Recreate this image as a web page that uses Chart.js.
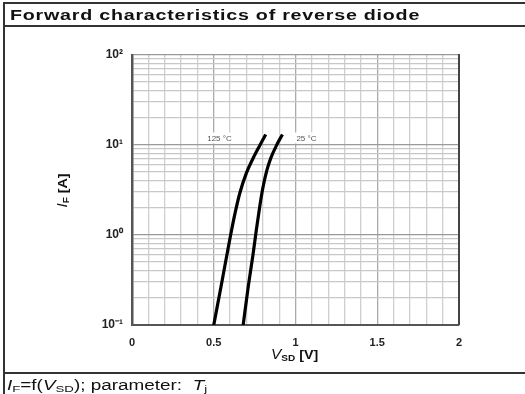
<!DOCTYPE html>
<html lang="en">
<head>
    <meta charset="UTF-8">
    <title>Forward characteristics of reverse diode</title>
    <script src="https://cdn.jsdelivr.net/npm/chart.js@4.4.0/dist/chart.umd.min.js"></script>
    <style>
        body { margin: 0; background: #fff; font-family: "Liberation Sans", Arial, sans-serif; }
        #frame {
            position: absolute; left: 3px; top: 2px; width: 522px; height: 392px;
            border-left: 2px solid #333; border-top: 2px solid #333;
        }
        #title {
            position: absolute; left: 0; top: 0; width: 522px; height: 23px;
            border-bottom: 2px solid #333; box-sizing: border-box;
        }
        #title span {
            position: absolute; left: 5px; top: 1px; display: inline-block;
            font-weight: bold; font-size: 15.5px; line-height: 20px; letter-spacing: 0.6px; color: #111;
            transform: scaleX(1.27); transform-origin: left center; white-space: nowrap;
        }
        #footer {
            position: absolute; left: 0; top: 368px; width: 522px; height: 24px;
            border-top: 2px solid #333; box-sizing: border-box;
        }
        #footer span {
            position: absolute; left: 2px; top: 1px; display: inline-block; white-space: nowrap;
            font-size: 14px; line-height: 20px; color: #111;
            transform: scaleX(1.35); transform-origin: left center;
        }
        #chartBox { position: absolute; left: 0; top: 28px; width: 525px; height: 344px; }
        .axisTitle { position: absolute; font-weight: bold; font-size: 13px; color: #111; white-space: nowrap; }
        .axisTitle i { font-weight: normal; font-size: 14px; }
        .axisTitle sub, #footer sub { font-size: 0.7em; vertical-align: -2px; }
        #xTitle { left: 271px; top: 346px; transform: scaleX(1.1); transform-origin: left center; }
        #yTitle { left: 47px; top: 182px; transform: rotate(-90deg) scaleX(1.1); transform-origin: center; }
    </style>
</head>
<body>
    <div id="chartBox"><canvas id="diodeChart"></canvas></div>
    <div id="frame">
        <div id="title"><span>Forward characteristics of reverse diode</span></div>
        <div id="footer"><span><i>I</i><sub>F</sub>=f(<i>V</i><sub>SD</sub>); parameter:&nbsp; <i>T</i><sub>j</sub></span></div>
    </div>
    <div class="axisTitle" id="xTitle"><i>V</i><sub>SD</sub> [V]</div>
    <div class="axisTitle" id="yTitle"><i>I</i><sub>F</sub> [A]</div>

    <script>
        // (V_SD in V, I_F in A)
        const vsd125 = [0.50, 0.55, 0.60, 0.63, 0.66, 0.70, 0.74, 0.78, 0.818];
        const if125  = [0.1, 0.302, 0.933, 1.74, 2.95, 4.9, 7.08, 9.77, 13.1];
        const vsd25  = [0.68, 0.711, 0.74, 0.76, 0.78, 0.80, 0.825, 0.85, 0.885, 0.92];
        const if25   = [0.1, 0.267, 0.603, 1.12, 2.0, 3.31, 5.25, 7.24, 10.0, 13.1];

        const curveLabels = ['125 °C', '25 °C'];
        const xTickLabels = { 0: '0', 5: '0.5', 10: '1', 15: '1.5', 20: '2' };
        const yTickLabels = { '-1': '10⁻¹', '0': '10⁰', '1': '10¹', '2': '10²' };

        function toPoints(xs, ys) {
            return xs.map((x, i) => ({ x: x, y: ys[i] }));
        }

        function isDecade(v) {
            const e = Math.log10(v);
            return Math.abs(e - Math.round(e)) < 1e-6;
        }

        // label boxes placed near the top end of each curve
        const curveLabelPlugin = {
            id: 'curveLabels',
            afterDatasetsDraw(chart) {
                const ctx = chart.ctx;
                const xs = chart.scales.x, ys = chart.scales.y;
                ctx.save();
                ctx.font = '8px "Liberation Sans", Arial, sans-serif';
                ctx.textBaseline = 'middle';
                const y = ys.getPixelForValue(if125[if125.length - 1]) + 4;
                // 125 °C sits left of its curve
                let x = xs.getPixelForValue(vsd125[vsd125.length - 1]) - 34;
                let w = ctx.measureText(curveLabels[0]).width;
                ctx.fillStyle = '#fff';
                ctx.fillRect(x - w - 6, y - 6, w + 16, 11);
                ctx.fillStyle = '#555';
                ctx.textAlign = 'right';
                ctx.fillText(curveLabels[0], x, y);
                // 25 °C sits right of its curve
                x = xs.getPixelForValue(vsd25[vsd25.length - 1]) + 14;
                w = ctx.measureText(curveLabels[1]).width;
                ctx.fillStyle = '#fff';
                ctx.fillRect(x - 5, y - 6, w + 12, 11);
                ctx.fillStyle = '#555';
                ctx.textAlign = 'left';
                ctx.fillText(curveLabels[1], x, y);
                ctx.restore();
            }
        };

        // right border of the plot is drawn dark
        const borderPlugin = {
            id: 'plotBorder',
            afterDraw(chart) {
                const a = chart.chartArea, ctx = chart.ctx;
                ctx.save();
                ctx.strokeStyle = '#444';
                ctx.lineWidth = 2;
                ctx.beginPath();
                ctx.moveTo(a.right, a.top - 1);
                ctx.lineTo(a.right, a.bottom);
                ctx.stroke();
                ctx.restore();
            }
        };

        const ctx = document.getElementById('diodeChart').getContext('2d');
        new Chart(ctx, {
            type: 'line',
            data: {
                datasets: [{
                    label: curveLabels[0],
                    data: toPoints(vsd125, if125),
                    borderColor: '#000',
                    borderWidth: 3.2,
                    pointRadius: 0,
                    cubicInterpolationMode: 'monotone',
                    fill: false
                }, {
                    label: curveLabels[1],
                    data: toPoints(vsd25, if25),
                    borderColor: '#000',
                    borderWidth: 3.2,
                    pointRadius: 0,
                    cubicInterpolationMode: 'monotone',
                    fill: false
                }]
            },
            options: {
                responsive: true,
                maintainAspectRatio: false,
                animation: false,
                layout: { padding: { left: 0, right: 66, top: 27, bottom: 0 } },
                plugins: { legend: { display: false }, tooltip: { enabled: false } },
                scales: {
                    x: {
                        type: 'linear',
                        min: 0,
                        max: 2,
                        afterFit: s => { s.height = 47; },
                        afterBuildTicks: s => {
                            s.ticks = [];
                            for (let i = 0; i <= 20; i++) s.ticks.push({ value: i / 10 });
                        },
                        border: { color: '#555', width: 2 },
                        grid: {
                            color: c => (Math.round(c.tick.value * 10) % 5 === 0 ? '#aaa' : '#cfcfcf'),
                            lineWidth: 1.3,
                            drawTicks: false
                        },
                        ticks: {
                            autoSkip: false,
                            maxRotation: 0,
                            padding: 11,
                            color: '#222',
                            font: { family: '"Liberation Sans", Arial, sans-serif', size: 11, weight: 'bold' },
                            callback: (v) => xTickLabels[Math.round(v * 10)] || ''
                        }
                    },
                    y: {
                        type: 'logarithmic',
                        min: 0.1,
                        max: 100,
                        afterFit: s => { s.width = 132; },
                        afterBuildTicks: s => {
                            s.ticks = [];
                            for (let e = -1; e < 2; e++) {
                                for (let m = 1; m < 10; m++) s.ticks.push({ value: m * Math.pow(10, e) });
                            }
                            s.ticks.push({ value: 100 });
                        },
                        border: { color: '#555', width: 2.5 },
                        grid: {
                            color: c => (isDecade(c.tick.value) ? '#999' : '#c8c8c8'),
                            lineWidth: 1.3,
                            drawTicks: false
                        },
                        ticks: {
                            autoSkip: false,
                            padding: 9,
                            color: '#222',
                            font: { family: '"Liberation Sans", Arial, sans-serif', size: 12, weight: 'bold' },
                            callback: (v) => (isDecade(v) ? yTickLabels[String(Math.round(Math.log10(v)))] : '')
                        }
                    }
                }
            },
            plugins: [curveLabelPlugin, borderPlugin]
        });
    </script>
</body>
</html>
